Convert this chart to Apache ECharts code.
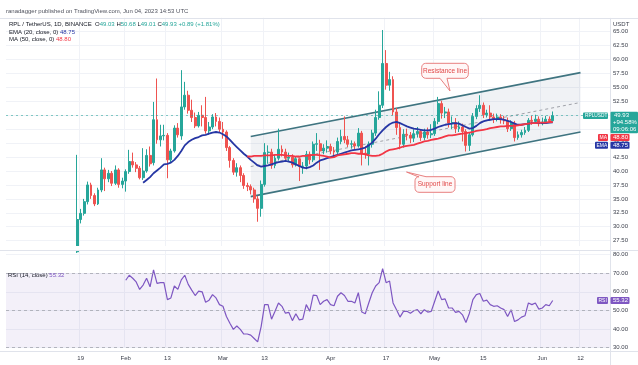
<!DOCTYPE html>
<html><head><meta charset="utf-8">
<script src="https://cdn.jsdelivr.net/npm/echarts@6/dist/echarts.min.js"></script>
<style>html,body{margin:0;padding:0;background:#fff}#c{width:638px;height:365px}</style>
</head><body><div id="c"></div><script>
// ---------- DATA ----------
const axisStart = '2022-12-29';
const axisDays = 174;
const candleStart = '2023-01-18';
// [open, close, low, high]
const candles = [
[25.5,31.3,25.3,42.9],[31.3,32.4,30.6,33.2],[32.4,34.5,32.0,35.0],[34.5,37.5,34.0,38.1],[37.5,35.6,35.0,37.9],
[35.6,34.1,33.7,36.0],[34.1,36.6,33.9,37.0],[36.6,40.2,36.2,42.3],[40.2,38.6,36.4,40.6],[38.6,39.6,38.0,40.2],
[39.6,37.8,37.3,40.0],[37.8,40.2,37.5,41.0],[40.2,37.6,37.0,40.5],[37.6,38.2,36.9,38.8],[38.2,39.9,36.3,40.3],
[39.9,41.7,39.5,43.8],[41.7,41.1,40.6,43.3],[41.1,40.5,39.8,41.6],[40.5,38.8,38.5,40.9],[38.8,40.0,38.4,44.1],
[40.0,42.8,39.7,43.9],[42.8,41.3,40.8,44.4],[41.5,49.2,41.0,52.4],[49.2,45.6,44.9,56.6],[45.6,46.3,44.4,48.3],
[46.3,46.4,45.5,48.3],[46.4,42.0,38.7,46.8],[42.0,43.6,41.5,44.0],[43.6,47.7,43.3,48.2],[47.7,46.5,46.0,48.6],
[46.3,51.5,45.6,58.1],[51.5,53.6,51.0,56.0],[53.6,50.9,50.3,54.4],[50.9,49.6,48.8,52.8],[49.6,48.1,47.7,50.5],
[48.1,50.0,47.8,50.6],[50.0,49.6,48.0,51.8],[49.6,47.2,46.7,53.3],[47.2,47.9,46.5,48.8],[47.9,49.7,47.5,50.2],
[49.7,48.9,48.0,50.4],[48.9,47.5,47.0,49.6],[47.5,47.0,45.8,48.8],[47.0,44.2,43.6,47.3],[44.2,41.9,40.6,44.5],
[41.9,39.8,39.3,42.3],[39.8,40.6,39.0,41.4],[40.6,39.2,38.0,41.0],[39.2,37.4,36.8,39.6],[37.4,37.2,36.4,37.9],
[37.2,36.6,35.8,37.6],[36.6,35.0,34.3,37.0],[35.0,33.3,30.9,35.5],[33.3,37.6,31.8,38.3],[37.6,43.3,37.2,45.0],
[43.3,43.4,41.3,44.6],[43.4,41.0,40.4,44.0],[41.0,42.3,40.5,42.9],[42.3,43.9,41.9,47.6],[43.9,43.4,42.6,44.6],
[43.4,42.3,41.8,44.0],[42.3,42.5,41.6,43.3],[42.5,41.1,40.6,43.0],[41.1,42.2,40.8,42.6],[42.2,40.8,38.2,42.4],
[40.8,40.9,39.5,41.6],[40.9,43.0,40.3,43.6],[43.0,42.0,41.2,43.5],[42.0,44.8,41.6,45.3],[44.8,44.9,43.6,46.8],
[44.9,43.6,40.2,45.6],[43.6,44.1,43.0,44.8],[44.1,44.4,43.3,45.5],[44.4,43.6,43.0,44.9],[43.6,43.4,42.6,44.3],
[43.4,45.3,43.0,46.0],[45.3,46.2,44.8,47.4],[46.2,45.6,45.0,49.8],[45.6,44.8,44.3,46.3],[44.8,44.9,44.0,45.5],
[44.9,44.5,43.8,45.3],[44.5,46.8,44.2,47.7],[46.8,43.2,41.0,47.2],[43.2,43.0,42.2,44.4],[43.0,44.8,41.0,45.3],
[44.8,46.8,44.2,47.4],[46.8,49.6,46.3,51.0],[49.6,51.8,49.2,54.3],[51.8,59.3,51.3,65.3],[59.3,55.4,54.6,61.7],
[55.4,56.4,54.4,57.8],[56.4,50.6,50.0,57.0],[50.6,47.8,46.5,51.3],[47.8,44.8,43.9,48.6],[44.8,46.6,44.2,47.5],
[46.6,46.4,45.5,47.6],[46.4,45.9,45.0,47.0],[45.9,46.7,45.2,47.5],[46.7,47.1,46.0,47.9],[47.1,46.0,45.4,47.5],
[46.0,47.0,45.5,47.6],[47.0,46.5,45.8,47.8],[46.5,46.7,45.9,48.4],[46.7,48.9,46.3,49.5],[48.9,52.1,48.4,53.3],
[52.1,50.4,49.4,52.6],[50.4,50.6,49.5,51.5],[50.6,48.6,47.8,51.2],[48.6,48.7,47.5,49.8],[48.7,47.6,46.8,49.5],
[47.6,47.9,47.0,48.9],[47.9,47.1,45.3,48.5],[47.1,44.6,43.5,47.5],[44.6,46.5,43.6,47.0],[46.5,49.8,46.2,50.4],
[49.8,51.2,49.3,51.8],[51.2,51.8,50.6,53.6],[51.8,50.1,49.5,52.3],[50.1,50.4,49.6,51.0],[50.4,49.7,49.1,51.8],
[49.7,49.4,48.6,50.3],[49.4,49.7,48.9,50.3],[49.7,49.2,48.5,50.2],[49.2,49.0,48.4,49.9],[49.0,47.6,47.0,49.6],
[47.6,48.6,47.2,49.1],[48.6,46.0,45.3,49.0],[46.0,46.5,45.6,47.1],[46.5,46.9,46.0,47.4],[46.9,47.3,46.5,47.9],
[47.3,49.1,47.0,49.5],[49.1,48.9,48.3,49.9],[48.9,49.3,48.6,50.1],[49.3,48.5,48.0,49.8],[48.5,48.8,48.2,49.6],
[48.8,49.3,48.5,49.9],[49.3,49.04,48.6,49.8],[49.03,49.93,49.01,50.68]
];
const emaStart = '2023-02-06';
const ema20 = [
37.9,38.4,38.9,39.6,40.1,40.6,41.2,41.3,41.5,42.0,42.7,43.6,44.6,45.2,45.6,45.9,46.1,46.4,46.5,46.7,
46.9,47.0,46.9,46.6,46.2,45.6,44.9,44.3,43.7,43.1,42.6,42.0,41.5,41.0,40.8,40.9,41.0,41.2,41.4,41.6,
41.7,41.8,41.7,41.5,41.2,40.9,40.6,40.5,40.7,41.0,41.5,41.9,42.1,42.3,42.5,42.7,42.9,43.1,43.3,43.5,
43.7,43.8,43.9,44.0,44.2,44.6,45.1,45.8,46.6,47.3,47.9,48.4,48.7,48.8,48.6,48.3,48.0,47.8,47.6,47.5,
47.4,47.3,47.3,47.4,47.6,47.9,48.1,48.3,48.4,48.5,48.6,48.5,48.2,47.9,47.6,47.7,48.1,48.6,48.9,49.1,
49.2,49.3,49.3,49.3,49.2,49.0,48.8,48.5,48.3,48.3,48.4,48.5,48.6,48.6,48.7,48.6,48.6,48.7,48.75
];
const maStart = '2023-03-08';
const ma50 = [
42.6,42.6,42.7,42.7,42.7,42.8,42.8,42.8,42.9,42.9,42.9,42.8,42.7,42.7,42.6,42.6,42.7,42.7,42.8,42.9,
42.9,42.8,42.7,42.6,42.4,42.5,42.8,42.9,43.0,43.1,43.2,43.2,43.1,43.1,43.0,42.8,42.7,42.7,42.8,43.1,
43.5,43.8,43.9,44.0,44.2,44.4,44.5,44.6,44.7,44.9,45.1,45.3,45.4,45.6,45.7,45.8,46.0,46.2,46.4,46.4,
46.5,46.6,46.7,46.8,46.9,47.0,47.2,47.3,47.4,47.5,47.7,47.8,47.9,48.0,48.0,48.1,48.1,48.1,48.2,48.3,
48.4,48.5,48.6,48.6,48.7,48.7,48.7,48.8,48.8
];
const rsiStart = '2023-02-01';
const rsi14 = [
66.2,68.9,67.3,65.3,61.3,63.6,67.3,62.7,71.8,64.5,64.9,64.9,55.8,56.7,63.1,61.3,66.4,68.9,64.0,60.9,
58.0,60.4,60.0,54.4,55.5,58.5,56.7,53.1,52.2,46.7,43.1,39.8,41.6,39.8,37.3,37.3,36.7,34.9,33.1,41.3,
53.1,53.1,45.3,49.5,54.0,52.2,48.5,48.9,44.5,48.2,44.9,45.3,53.1,49.5,58.2,58.0,53.1,54.9,55.8,53.1,
52.5,57.6,59.5,58.0,54.9,54.9,54.0,59.5,49.1,48.2,54.0,59.5,63.1,64.9,72.5,64.9,65.8,54.0,50.4,46.4,
49.5,49.5,48.5,49.8,50.4,48.2,50.4,49.1,49.5,54.9,60.4,55.8,56.2,51.3,51.3,48.9,49.5,47.6,43.5,48.5,
55.8,58.5,59.1,54.9,55.5,53.1,52.2,52.5,51.3,50.4,46.7,50.4,44.0,44.9,46.4,47.1,54.0,53.1,54.0,50.7,
51.3,53.1,52.5,55.32
];
const tickDates = ['2023-01-19','2023-02-01','2023-02-13','2023-03-01','2023-03-13','2023-04-01','2023-04-17','2023-05-01','2023-05-15','2023-06-01','2023-06-12'];
const tickLabels = ['19','Feb','13','Mar','13','Apr','17','May','15','Jun','12'];
const channelUpper = [['2023-03-09',46.2],['2023-06-12',57.65]];
const channelLower = [['2023-03-09',35.4],['2023-06-12',47.0]];
const channelMid = [['2023-03-09',40.8],['2023-06-12',52.3]];
const lastClose = 49.93, lastEma = 48.75, lastMa = 48.80, lastRsi = 55.32;

// ---------- BUILD ----------
function fmt(d){return d.toISOString().slice(0,10);}
const base = new Date(axisStart+'T00:00:00Z');
const categories = [];
for(let i=0;i<axisDays;i++){categories.push(fmt(new Date(base.getTime()+i*86400000)));}
const idx = s => categories.indexOf(s);
function pad(arr, start){
  const out = new Array(axisDays).fill('-');
  const s = idx(start);
  arr.forEach((v,i)=>{out[s+i]=v;});
  return out;
}
const candleData = new Array(axisDays).fill(['-','-','-','-']);
{const s=idx(candleStart); candles.forEach((c,i)=>{candleData[s+i]=c;});}
const tickIdx = new Set(tickDates.map(idx));
const tickMap = {}; tickDates.forEach((d,i)=>{tickMap[d]=tickLabels[i];});
const FONT = 'Liberation Sans, Arial, sans-serif';
const lastIdx = idx(candleStart)+candles.length-1;

const option = {
  animation:false,
  grid:[{left:6,width:604,top:17.77,height:236.83},{left:6,width:604,top:254.6,height:93}],
  xAxis:[
    {type:'category',gridIndex:0,data:categories,boundaryGap:true,axisLine:{show:false},axisTick:{show:false},axisLabel:{show:false},
     splitLine:{show:true,interval:(i)=>tickIdx.has(i),lineStyle:{color:'#f0f2f7',width:1}}},
    {type:'category',gridIndex:1,data:categories,boundaryGap:true,axisLine:{show:false},axisTick:{show:false},
     axisLabel:{show:true,interval:(i)=>tickIdx.has(i),formatter:(v)=>tickMap[v]||'',fontSize:6,color:'#3a3e4a',fontFamily:FONT,margin:8},
     splitLine:{show:true,interval:(i)=>tickIdx.has(i),lineStyle:{color:'#f0f2f7',width:1}}}
  ],
  yAxis:[
    {type:'value',gridIndex:0,position:'right',min:25,max:67.5,interval:2.5,axisLine:{show:false},axisTick:{show:false},
     axisLabel:{fontSize:6,color:'#3a3e4a',fontFamily:FONT,margin:3,formatter:(v)=>(v<=25||v>=67.5)?'':v.toFixed(2)},
     splitLine:{show:true,showMinLine:false,lineStyle:{color:'#f0f2f7'}}},
    {type:'value',gridIndex:1,position:'right',min:30,max:80,interval:10,axisLine:{show:false},axisTick:{show:false},
     axisLabel:{fontSize:6,color:'#3a3e4a',fontFamily:FONT,margin:3,formatter:(v)=>v.toFixed(2)},
     splitLine:{show:true,lineStyle:{color:'#f0f2f7'}}}
  ],
  series:[
    {type:'custom',xAxisIndex:0,yAxisIndex:0,z:1,silent:true,
     data:[[idx(channelUpper[0][0]),channelUpper[0][1],channelLower[0][1],idx(channelUpper[1][0]),channelUpper[1][1],channelLower[1][1]]],
     encode:{x:[0,3],y:[1,2,4,5]},
     renderItem:function(params,api){
       const a=api.coord([api.value(0),api.value(1)]), b=api.coord([api.value(3),api.value(4)]);
       const c=api.coord([api.value(3),api.value(5)]), d=api.coord([api.value(0),api.value(2)]);
       return {type:'polygon',shape:{points:[a,b,c,d]},style:{fill:'rgba(120,140,160,0.11)'}};
     }},
    {type:'line',xAxisIndex:0,yAxisIndex:0,data:channelUpper.map(p=>[idx(p[0]),p[1]]),symbol:'none',z:2,lineStyle:{color:'#3f7480',width:1.6}},
    {type:'line',xAxisIndex:0,yAxisIndex:0,data:channelLower.map(p=>[idx(p[0]),p[1]]),symbol:'none',z:2,lineStyle:{color:'#3f7480',width:1.6}},
    {type:'line',xAxisIndex:0,yAxisIndex:0,data:channelMid.map(p=>[idx(p[0]),p[1]]),symbol:'none',z:2,lineStyle:{color:'#8a8d96',width:0.8,type:[3,3]}},
    {type:'candlestick',xAxisIndex:0,yAxisIndex:0,data:candleData,barWidth:2.4,z:3,
     itemStyle:{color:'#26a69a',color0:'#ef5350',borderColor:'#26a69a',borderColor0:'#ef5350',borderWidth:1},
     markLine:{silent:true,symbol:'none',label:{show:false},lineStyle:{color:'#26a69a',type:[2,3],width:0.8,opacity:0.7},data:[{yAxis:lastClose}]}},
    {type:'line',xAxisIndex:0,yAxisIndex:0,data:pad(ema20,emaStart),symbol:'none',z:4,lineStyle:{color:'#2536a4',width:1.8}},
    {type:'line',xAxisIndex:0,yAxisIndex:0,data:pad(ma50,maStart),symbol:'none',z:4,lineStyle:{color:'#f23645',width:1.8}},
    {type:'line',xAxisIndex:1,yAxisIndex:1,data:pad(rsi14,rsiStart),symbol:'none',z:4,lineStyle:{color:'#7e57c2',width:1.2},
     markArea:{silent:true,itemStyle:{color:'rgba(126,87,194,0.09)'},data:[[{yAxis:30},{yAxis:70}]]},
     markLine:{silent:true,symbol:'none',label:{show:false},lineStyle:{color:'#a3a6af',type:[3,3],width:0.8},data:[{yAxis:70},{yAxis:50},{yAxis:30}]}}
  ]
};
const chart = echarts.init(document.getElementById('c'));
chart.setOption(option);

function arcPts(cx,cy,r,a0,a1){
  const pts=[];
  for(let k=0;k<=4;k++){const a=a0+(a1-a0)*k/4; pts.push([cx+r*Math.cos(a),cy+r*Math.sin(a)]);}
  return pts;
}
function calloutPoints(x,y,w,h,r,side,t1,t2,tx,ty){
  const R=x+w,B=y+h,P=Math.PI; let pts=[];
  pts=pts.concat(arcPts(x+r,y+r,r,P,1.5*P));
  if(side==='top') pts.push([t1,y],[tx,ty],[t2,y]);
  pts=pts.concat(arcPts(R-r,y+r,r,1.5*P,2*P));
  pts=pts.concat(arcPts(R-r,B-r,r,0,0.5*P));
  if(side==='bottom') pts.push([t2,B],[tx,ty],[t1,B]);
  pts=pts.concat(arcPts(x+r,B-r,r,0.5*P,P));
  return pts;
}
const py = chart.convertToPixel({gridIndex:0},[lastIdx,lastClose])[1];
const ry = chart.convertToPixel({gridIndex:1},[lastIdx,lastRsi])[1];
const txt = (x,y,text,fill,size,extra)=>({type:'text',x:x,y:y,z:100,style:Object.assign({text:text,fill:fill,fontSize:size||6,fontFamily:FONT,verticalAlign:'middle'},extra||{})});
const rect = (x,y,w,h,fill)=>({type:'rect',z:99,shape:{x:x,y:y,width:w,height:h,r:1},style:{fill:fill}});
const line = (x1,y1,x2,y2,c)=>({type:'line',z:98,shape:{x1:x1,y1:y1,x2:x2,y2:y2},style:{stroke:c||'#e0e3eb',lineWidth:1}});
const teal='#26a69a', red='#f23645', blue='#2536a4', purple='#7e57c2';
const g = [
  {type:'rect',z:97,shape:{x:0,y:246,width:638,height:5},style:{fill:'#fff'}},
  line(0,18.5,638,18.5), line(0,250.5,638,250.5), line(0,351.5,638,351.5), line(610.5,18.5,610.5,365),
  txt(6,11,'ranadagger published on TradingView.com, Jun 04, 2023 14:53 UTC','#50535e',6),
  {type:'text',x:9,y:24.5,z:100,style:{fontFamily:FONT,fontSize:6,verticalAlign:'middle',
    text:'{d|RPL / TetherUS, 1D, BINANCE}  {d|O}{v|49.03} {d|H}{v|50.68} {d|L}{v|49.01} {d|C}{v|49.93} {v|+0.89 (+1.81%)}',
    rich:{d:{fill:'#131722',fontSize:6,fontFamily:FONT},v:{fill:teal,fontSize:6,fontFamily:FONT}}}},
  {type:'text',x:9,y:32.3,z:100,style:{fontFamily:FONT,fontSize:6,verticalAlign:'middle',
    text:'{d|EMA (20, close, 0)} {v|48.75}',rich:{d:{fill:'#131722',fontSize:6,fontFamily:FONT},v:{fill:blue,fontSize:6,fontFamily:FONT}}}},
  {type:'text',x:9,y:39.6,z:100,style:{fontFamily:FONT,fontSize:6,verticalAlign:'middle',
    text:'{d|MA (50, close, 0)} {v|48.80}',rich:{d:{fill:'#131722',fontSize:6,fontFamily:FONT},v:{fill:red,fontSize:6,fontFamily:FONT}}}},
  {type:'text',x:8,y:275,z:100,style:{fontFamily:FONT,fontSize:6,verticalAlign:'middle',
    text:'{d|RSI (14, close)} {v|55.32}',rich:{d:{fill:'#131722',fontSize:6,fontFamily:FONT},v:{fill:purple,fontSize:6,fontFamily:FONT}}}},
  txt(613,24.5,'USDT','#3a3e4a',6),
  rect(610.5,py-4,27.5,21.6,teal), txt(614,py,lastClose.toFixed(2),'#fff',6), txt(613,py+6.8,'+94.58%','#fff',6), txt(613,py+13.4,'09:06:06','#fff',6),
  rect(583,py-3.2,25,6.6,teal), txt(585,py+0.1,'RPLUSDT','#fff',4.8),
  rect(610.5,py+18.2,19,7.2,red), txt(613,py+21.8,lastMa.toFixed(2),'#fff',6),
  rect(598,py+18.2,10,7.2,red), txt(599.5,py+21.8,'MA','#fff',5),
  rect(610.5,py+26,19,7,blue), txt(613,py+29.5,lastEma.toFixed(2),'#fff',6),
  rect(595,py+26,13,7,blue), txt(596.5,py+29.5,'EMA','#fff',5),
  rect(610.5,ry-3.6,19,7.2,purple), txt(613,ry,lastRsi.toFixed(2),'#fff',6),
  rect(597,ry-3.6,11,7.2,purple), txt(598.5,ry,'RSI','#fff',5),
  {type:'polygon',z:90,shape:{points:calloutPoints(421.7,63.3,46.6,15,4,'bottom',440,447,450,91)},style:{fill:'#fff7f7',stroke:'#e88080',lineWidth:1}},
  txt(445,70.8,'Resistance line','#e04848',6.5,{align:'center'}),
  {type:'polygon',z:90,shape:{points:calloutPoints(415,176.7,40,15.6,4,'top',418,426,406.5,172)},style:{fill:'#fff7f7',stroke:'#e88080',lineWidth:1}},
  txt(435,184.5,'Support line','#e04848',6.5,{align:'center'})
];
chart.setOption({graphic:g});
</script></body></html>
